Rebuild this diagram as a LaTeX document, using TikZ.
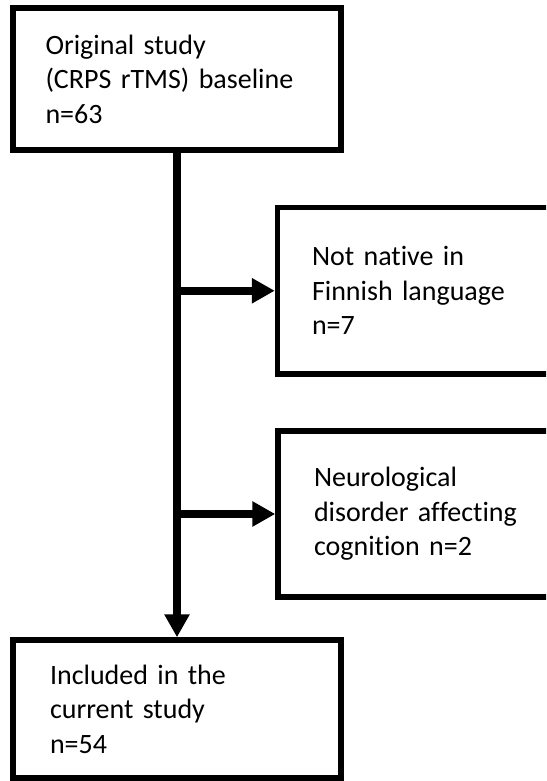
\documentclass[tikz,border=0pt]{standalone}
\usepackage{fontspec}
\setmainfont{Carlito}[Ligatures=NoCommon]
\usetikzlibrary{arrows.meta}
\begin{document}
\begin{tikzpicture}[x=1pt,y=-1pt,
  box/.style={draw=black, line width=5.5pt, fill=white, align=left,
    font=\fontsize{28}{34.5}\selectfont, inner ysep=0pt, anchor=center},
  conn/.style={line width=8.5pt},
  arr/.style={conn, -{Triangle[length=23pt,width=24pt]}}]
\useasboundingbox (0,0) rectangle (546,781);
\clip (0,0) rectangle (546,781);
\fill[white] (0,0) rectangle (546,781);
\node[box, minimum width=328pt, minimum height=142pt, text width=263pt, inner xsep=32.5pt] (orig) at (177,79)
  {Original study\\(CRPS rTMS) baseline\\n=63};
\node[box, minimum width=302pt, minimum height=166.5pt, text width=234pt, inner xsep=34.5pt] (excl1) at (429,290.75)
  {Not native in\\Finnish language\\n=7};
\node[box, minimum width=302pt, minimum height=166pt, text width=230pt, inner xsep=36pt] (excl2) at (429,514)
  {Neurological\\disorder affecting\\cognition n=2};
\node[box, minimum width=328pt, minimum height=138pt, text width=254pt, inner xsep=37pt] (incl) at (177,709)
  {Included in the\\current study\\n=54};
\coordinate (j1) at (177,290.75);
\coordinate (j2) at (177,514);
\draw[arr] (orig.south) -- (incl.north);
\draw[arr] (j1) -- (excl1.west);
\draw[arr] (j2) -- (excl2.west);
\end{tikzpicture}
\end{document}
